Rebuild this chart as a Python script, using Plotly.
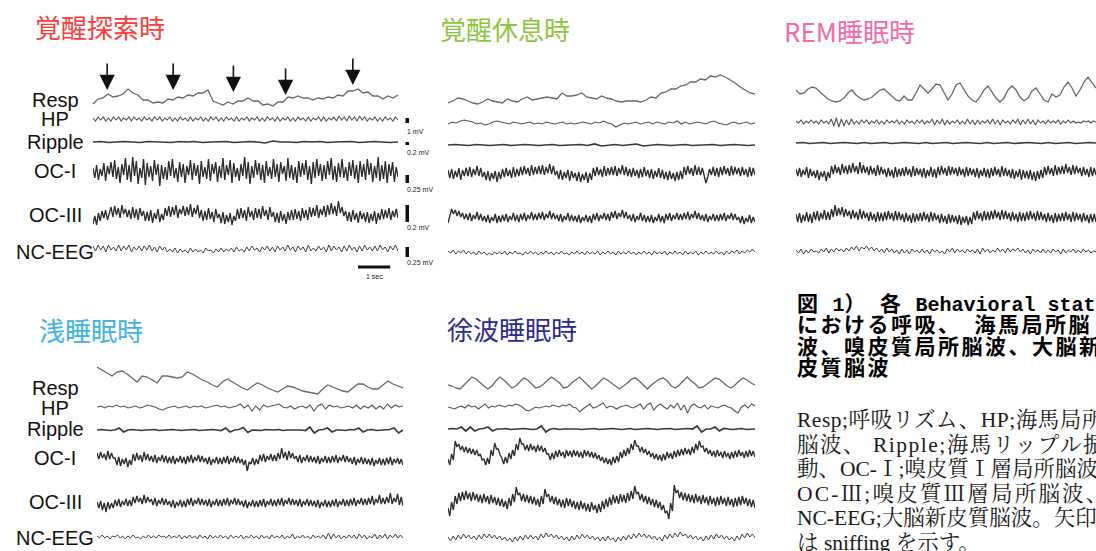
import numpy as np
import plotly.graph_objects as go

W, H = 1096, 551
PX_PER_SEC = 32.2

CHANNELS = ["Resp", "HP", "Ripple", "OC-I", "OC-III", "NC-EEG"]
STATE_NAMES = ["覚醒探索時", "覚醒休息時", "REM睡眠時", "浅睡眠時", "徐波睡眠時"]

# ---------------- panel 1: 覚醒探索時 ----------------
p1_resp = [-6,-1,0,4,1,2,4,9,5,3,-2,-2,-5,-4,-5,-1,-2,1,0,3,2,5,5,8,-3,-5,-7,-4,-6,-3,-3,0,-3,-3,-7,-6,-8,-4,-4,1,0,2,0,0,-2,0,-1,1,0,3,2,7,7,9,5,6,2,2,-1,2,0,3]
p1_hp = [1,-2,2,-1,2,-2,1,-2,2,-1, 2,-2,1,-1,2,-2,2,-1,1,-2, 2,-1,1,-2,2,-1,2,-2,1,-1, 2,-2,1,-2,2,-1,1,-2,2,-2,
         1,-1,2,-2,1,-2,2,-1,2,-2, 1,-2,2,-1,1,-2,2,-2,1,-1, 2,-2,1,-1,2,-2,1,-2,2,-1, 1,-2,2,-2,1,-1,2,-2,1,-2,
         2,-1,1,-2,2,-2,1,-1,2,-2, 2,-2,1,-1,2,-2,3,-1,2,-2, 3,-1,2,-2,3,-1,2,-2,1,-1, 2,-2,1,-2,2,-1,1,-2,2,-1]
p1_ripple = [0,0.5,-0.5,0,0.5,0,-0.5,0.5,0,0,-0.5,0.5,0,0.5,-0.5,0,0,0.5,-0.5,0,0.5,0,-1,1,0,0,-0.5,0.5,0,0.5,-0.5,0,0,0.5,-0.5,0,0.5,0,-0.5,0]
p1_oc1 = [3,-7,6,-9,2,-5,8,-10,5,-3, 9,-6,11,-8,4,-12,7,-4,13,-9, 6,-11,14,-5,10,-13,3,-7,12,-14, 8,-6,5,-10,11,-4,7,-15,6,-8,
          4,-9,10,-5,12,-7,3,-11,9,-6, 7,-12,5,-4,11,-9,8,-5,6,-13, 10,-6,4,-8,12,-10,7,-3,9,-11, 5,-7,13,-9,6,-4,11,-12,8,-6,
          3,-10,7,-5,14,-8,9,-13,5,-7, 11,-4,8,-9,6,-12,10,-5,4,-8, 12,-6,7,-11,9,-3,5,-10,13,-7, 6,-9,4,-12,10,-6,8,-4,11,-9,
          5,-13,9,-7,12,-5,7,-10,6,-8, 10,-4,13,-9,5,-11,8,-6,12,-7, 4,-10,9,-5,11,-8,6,-12,10,-6, 7,-9,12,-4,8,-11,5,-7,14,-10,
          6,-8,10,-12,7,-5,9,-11,4,-6]
p1_oc3 = [-9,-1,-10,2,-6,4,-3,5,-5,3, 8,-2,9,0,7,-3,10,1,6,-2, 5,-4,8,-3,6,-5,7,-1,4,-6, 3,-6,5,-8,2,-4,6,-7,1,-5,
          7,-1,9,-2,8,0,10,-3,6,1, 9,-1,8,0,11,-2,7,1,10,-3, 5,-6,4,-5,7,-4,3,-7,6,-3, 1,-8,3,-9,0,-7,2,-10,-1,-6,
          6,-4,7,-3,5,-6,8,-2,4,-5, 7,-3,6,-4,9,-1,5,-5,8,-2, 3,-7,2,-8,4,-6,1,-9,3,-5, 5,-5,6,-4,4,-6,7,-3,5,-5,
          8,-2,7,-1,10,-3,6,0,9,-2, 10,0,12,1,9,-1,14,2,8,-1, 4,-6,3,-7,5,-5,2,-8,4,-4, 2,-7,3,-8,1,-6,4,-9,2,-5,
          6,-4,5,-3,7,-5,4,-2,6,-3]
p1_nc = [3,-2,4,-1,3,-3,4,-1,2,-2, 4,-2,3,-1,4,-3,2,-1,3,-2, 3,-1,4,-2,2,-3,3,-1,2,-3, 0,-3,1,-4,0,-3,-1,-4,1,-3,
         0,-3,-1,-4,1,-2,-1,-4,0,-3, 1,-3,0,-2,1,-3,2,-2,0,-3, 2,-2,3,-1,1,-3,2,-1,3,-2, 2,-3,3,-1,2,-2,4,-1,2,-3,
         3,-1,2,-3,4,-2,1,-2,3,-1, 2,-3,4,-2,3,-1,2,-3,3,-2, 4,-1,2,-3,3,-2,4,-1,2,-2, 3,-2,4,-1,2,-3,3,-1,4,-2]

# ---------------- panel 2: 覚醒休息時 ----------------
p2_resp = [-10,-8,-5,-6,-8,-10,-11,-9,-6,-8,-9,-10,-6,-8,-9,-6,-4,-7,-6,-5,-4,-5,-6,0,-3,-3,-2,0,-4,-5,-6,-3,-5,-6,-8,-9,-8,-8,-8,-9,-7,-4,-5,0,1,4,4,7,8,11,11,14,13,17,16,18,16,13,10,6,3,0,-1]
p2_hp = [-1,1,0,2,3,2,1,-1,0,-2,-1,1,2,1,0,-1,1,0,-1,0,1,-1,0,-1,1,0,-1,0,1,-1,0,-1,0,1,0,-1,1,0,2,0,-1,-4,-2,0,-1,0,1,-1,0,1,-1,1,0,-1,1,0,2,-1,1,-1,0,1,0,-1,1,2,0,-1,-2,0,1,-1,0,1,-1,0]
p2_ripple = [0,0.5,0,-0.5,0.5,0,-0.5,0,0.5,-0.5,0,0.5,0,-0.5,0,0.5,-0.5,0,0,0.5,-0.5,1,-1,0,0.5,-0.5,0,1,-1,0,0.5,0,-0.5,0,0.5,-0.5,0,0,0.5,-0.5,0,0.5,0,-0.5,0]
p2_oc1 = [3,-5,4,-6,2,-4,5,-7,3,-3, 5,-3,6,-4,4,-2,7,-3,5,-4, 1,-7,2,-8,0,-6,2,-9,1,-6, 4,-4,5,-3,3,-5,6,-4,4,-3,
          6,-2,7,-1,5,-3,8,-2,6,-1, 7,-1,8,-2,6,0,9,-1,7,-2, 2,-6,3,-7,1,-5,3,-8,2,-5, 0,-8,1,-9,-1,-7,1,-10,0,-7,
          5,-3,6,-2,4,-4,7,-3,5,-2, 6,-2,7,-3,5,-1,8,-2,6,-3, 4,-4,5,-3,3,-5,4,-4,6,-3, 3,-5,4,-6,2,-4,5,-5,3,-6,
          1,-7,2,-6,0,-8,1,-7,2,-6, 6,-2,7,-1,5,-3,8,-2,6,-2, 5,-3,-10,-4,4,-2,6,-3,5,-4, 6,-2,7,-1,5,-3,7,-2,6,-1,
          5,-3,6,-2,4,-4,6,-3,5,-2]
p2_oc3 = [-5,3,9,4,8,2,7,1,5,-1, 4,-2,5,-3,3,-1,6,-2,4,-3, 2,-4,3,-5,1,-3,4,-5,2,-4, 3,-3,4,-4,2,-2,5,-3,3,-4,
          4,-2,5,-3,3,-1,6,-2,4,-2, 5,-1,6,-2,4,0,7,-1,5,-1, 3,-3,4,-4,2,-2,5,-3,3,-3, 2,-4,3,-5,1,-3,3,-4,2,-5,
          4,-2,5,-3,3,-1,5,-2,4,-3, 6,0,7,-1,5,1,8,0,6,-1, 3,-3,4,-4,2,-2,5,-3,3,-4, 2,-4,3,-5,1,-3,4,-4,2,-5,
          4,-2,5,-3,3,-1,5,-2,4,-2, 5,-1,6,-2,4,0,7,-1,5,-2, 3,-3,4,-4,2,-2,4,-3,3,-3, 4,-2,5,-3,3,-1,5,-2,4,-2,
          1,-5,2,-6,0,-4,3,-5,1,-4]
p2_nc = [2,0,3,-1,2,0,3,-1,2,-1, 1,-2,2,-1,1,-2,0,-2,1,-1, 1,-1,2,-2,1,-1,2,-1,0,-2, 1,-1,2,-1,1,-2,1,-1,2,-1,
         1,-2,1,-1,2,-1,0,-2,1,-1, 2,-1,1,-2,2,-1,1,-1,2,-2, 1,-1,2,-1,1,-2,2,-1,1,-1, 2,-1,1,-2,1,-1,2,-1,1,-2,
         2,-1,1,-1,2,-2,1,-1,2,-1, 1,-2,2,-1,1,-1,2,-2,1,-1, 2,-1,1,-1,2,-1,1,-2,2,-1, 2,0,3,-1,2,0,3,1,4,1]

# ---------------- panel 3: REM睡眠時 ----------------
p3_resp = [2,-2,-1,3,5,4,0,-4,-7,-9,-10,-9,-6,-1,2,-3,-6,-8,-7,-5,-1,2,3,-1,-5,-8,-9,-4,-8,-8,-1,7,3,-1,3,8,7,-1,-8,-2,7,9,2,-4,-8,-10,-5,2,6,0,-6,-10,-6,2,6,2,-5,-9,-6,1,4,-2,-8,-10,-2,-5,-3,5,10,4,-4,2,10,15,10,4]
p3_hp = [1,-1,2,-2,1,-1,2,-1,1,-2, 2,-1,1,-2,3,-4,4,-5,3,-4, 2,-3,3,-2,1,-2,2,-1,2,-2, 1,-1,2,-2,1,-2,2,-1,1,-1,
         2,-2,1,-2,2,-1,1,-2,2,-1, 2,-2,1,-1,3,-3,2,-2,3,-3, 2,-2,1,-1,2,-2,1,-2,3,-2, 2,-3,2,-2,1,-1,2,-2,3,-2,
         2,-3,2,-1,1,-2,2,-1,3,-3, 2,-2,3,-2,2,-3,2,-1,1,-2, 2,-1,1,-1,2,-2,1,-1,2,-1, 1,-1,0,-1,1,0,1,-1,1,0]
p3_ripple = [0,0.5,-0.5,0,0.5,-0.5,0,0.5,0,-0.5,0.5,-0.5,0,0.5,-0.5,0,0.5,0,-0.5,0.5,-0.5,0,0.5,-0.5,0,0.5,0,-0.5,0.5,-0.5,0,0.5,-0.5,0,0.5,0,-0.5,0.5,-0.5,0,0.5,-0.5,0,0.5,0]
p3_oc1 = [3,-4,4,-5,2,-3,5,-6,3,-4, 1,-6,2,-8,0,-5,1,-9,0,-6, 6,-2,7,-1,5,-3,8,-1,6,-2, 7,-1,9,0,6,-2,10,-1,7,-1,
          5,-3,6,-2,4,-4,7,-3,5,-2, 3,-5,4,-4,2,-6,5,-5,3,-4, 4,-4,5,-3,3,-5,6,-4,4,-3, 3,-5,4,-6,2,-4,5,-5,3,-6,
          5,-3,6,-2,4,-4,6,-3,5,-2, 4,-4,5,-3,3,-5,5,-4,4,-3, 3,-5,4,-6,2,-4,4,-5,3,-6, 4,-4,5,-3,3,-5,6,-4,4,-4,
          2,-6,3,-7,1,-5,3,-8,2,-6, 1,-7,2,-8,0,-9,1,-7,2,-6, 5,-3,6,-2,4,-4,7,-3,5,-2, 6,-2,8,-1,5,-3,7,-2,6,-1,
          4,-4,5,-3,3,-5,5,-4,4,-3]
p3_oc3 = [3,-5,4,-6,2,-4,5,-5,3,-6, 5,-3,6,-4,4,-2,7,-3,5,-3, 8,0,12,1,9,2,10,0,8,1, 6,-2,7,-1,5,-3,8,-2,6,-1,
          4,-4,5,-3,3,-5,5,-4,4,-4, 5,-3,6,-2,4,-4,6,-3,5,-3, 3,-5,4,-4,2,-6,4,-5,3,-4, 4,-4,5,-3,3,-5,5,-4,4,-3,
          2,-6,3,-5,1,-7,3,-6,2,-5, 1,-7,2,-8,0,-6,1,-8,0,-7, 5,-3,6,-2,4,-4,6,-3,5,-3, 6,-2,7,-1,5,-3,7,-2,6,-2,
          4,-4,5,-3,3,-5,5,-4,4,-4, 5,-3,6,-2,4,-4,6,-3,5,-3, 3,-5,4,-4,2,-6,4,-5,3,-4, 4,-4,5,-3,3,-5,5,-4,4,-3,
          3,-5,4,-4,2,-6,3,-5,3,-5]
p3_nc = [1,-2,2,-3,1,-2,2,-1,0,-2, 2,-1,3,-2,2,-1,3,0,2,-1, 3,0,4,1,5,0,4,2,5,1, 4,0,3,-1,2,-2,3,-1,2,-2,
         1,-3,2,-2,1,-3,2,-1,1,-2, 2,-2,1,-3,2,-1,1,-2,0,-3, 2,-1,3,-2,2,-1,1,-2,2,-1, 1,-2,2,-3,3,-1,2,-2,1,-1,
         3,-1,2,-2,3,-1,2,0,3,-1, 2,-2,1,-3,2,-1,1,-2,2,-2, 1,-2,2,-1,1,-3,2,-2,1,-1, 2,-2,1,-2,2,-1,1,-2,0,-1]

# ---------------- panel 4: 浅睡眠時 ----------------
p4_resp = [11,8,5,2,6,7,4,0,-4,2,1,-2,-5,2,2,1,0,1,6,4,1,-2,-4,-7,-9,-4,-1,-4,-7,-10,-12,-8,-5,-7,-10,-12,-14,-11,-8,-9,-11,-13,-14,-15,-16,-11,-7,-9,-11,-13,-14,-10,-6,-6,-9,-11,-11,-7,-3,-6,-8,-10]
p4_hp = [0,1,-1,1,0,2,0,1,-1,0,1,-1,0,2,1,0,-2,-3,-1,0,1,-1,0,1,-1,1,0,1,-1,0,1,2,0,1,-1,0,1,3,-1,2,-4,1,-3,2,0,1,2,3,0,-1,1,-2,0,1,-1,2,-4,1,3,-2,2,0,1,-1,0,1,-1,2,-2,1,-1,2,-2,1,-2,3,-1,2,0,1]
p4_ripple = [0,0.5,0,-0.5,0,2,-2,0,0.5,0,-0.5,0,0,0.5,-0.5,0,0,0.5,0,-0.5,0,0,0.5,-0.5,0,0,0.5,0,-0.5,2,-2,0,0.5,2.5,-2.5,0,0,-0.5,0.5,0,0,0.5,-0.5,0,0,0.5,0,-0.5,3,-3,0,0.5,2,-2,0,0,-0.5,0.5,0,2,-2,0,0.5,-0.5,0,0,0.5,2,-3,0]
p4_oc1 = [7,1,8,2,6,0,9,1,7,2, 2,-5,3,-6,1,-4,2,-7,0,-5, 6,-1,7,0,5,-2,8,0,6,-1, 4,-2,5,-3,3,-1,5,-2,4,-3,
          3,-3,4,-4,2,-2,4,-3,3,-4, 4,-2,5,-3,3,-1,5,-2,4,-2, 2,-4,3,-5,1,-3,3,-4,2,-4, 3,-3,4,-4,2,-2,4,-3,3,-3,
          1,-5,0,-11,-2,-4,2,-5,1,-4, 5,-1,6,-2,4,0,6,-1,5,-1, 7,1,12,2,8,0,9,2,7,1, 4,-2,5,-3,3,-1,5,-2,4,-2,
          3,-3,4,-4,2,-2,4,-3,3,-3, 4,-2,5,-3,3,-1,5,-2,4,-2, 2,-4,3,-5,1,-3,3,-4,2,-4, 1,-5,2,-6,0,-4,2,-5,1,-5,
          2,-4,3,-5,1,-3,2,-4,1,-5]
p4_oc3 = [1,-5,2,-7,0,-9,1,-6,0,-5, 3,-3,4,-4,2,-2,4,-3,3,-3, 6,0,7,1,5,-1,8,0,6,1, 4,-2,5,-3,3,-1,5,-2,4,-2,
          2,-4,3,-5,1,-3,3,-4,2,-4, 4,-2,5,-3,3,-1,5,-2,4,-2, 3,-3,4,-4,2,-2,4,-3,3,-3, 4,-2,5,-3,3,-1,5,-2,4,-2,
          2,-4,3,-5,1,-3,3,-4,2,-4, 3,-3,4,-4,2,-2,4,-3,3,-3, 4,-2,5,-3,3,-1,5,-2,4,-2, 3,-3,4,-4,2,-2,4,-3,3,-3,
          2,-4,3,-5,1,-3,3,-4,2,-4, 3,-3,4,-4,2,-2,4,-3,3,-3, 4,-2,5,-3,3,-1,5,-2,4,-2, 5,-1,7,-2,4,0,8,-1,5,-1,
          6,0,10,-1,5,1,9,-2,6,-3]
p4_nc = [1,-1,2,-1,1,-2,1,0,2,-1, 1,-2,1,-1,2,-1,0,-2,1,-1, 2,-1,1,-1,2,0,1,-1,2,-1, 1,-1,2,-2,1,-1,2,-1,1,-2,
         2,-1,1,-2,2,-1,1,-1,2,-1, 1,-2,2,-1,1,-1,2,-2,1,-1, 2,-1,1,-2,2,-1,1,-2,2,-1, 1,-1,2,-2,1,-1,3,-2,1,-1,
         2,-1,1,-2,2,-1,1,-1,2,-2, 4,-2,3,-1,2,-2,1,-1,2,-1, 2,-2,3,-1,2,-2,1,-1,3,-2, 2,-1,3,-2,2,-1,3,-1,2,-1]

# ---------------- panel 5: 徐波睡眠時 ----------------
p5_resp = [-2,-3,-5,-6,-2,2,6,4,0,-3,-6,-3,2,6,3,-1,-5,-3,1,5,3,-1,-5,-4,-1,3,6,3,0,-5,-4,0,3,6,2,-2,-6,-3,1,5,3,0,-3,-6,-3,0,4,5,2,-2,-6,-2,1,4,5,2,-3,-5,-2,2,6,2,-1,-5,-4,-1,2,5,4,0,-3,-5,-2,2,5,3,0,-2]
p5_hp = [0,-1,-2,0,1,-1,2,0,1,-2,1,3,-1,1,0,2,1,0,2,1,3,2,0,-3,-4,-2,0,-1,0,1,0,2,1,0,2,1,3,0,-1,-5,-2,1,3,-1,0,2,4,-1,1,0,-2,0,1,2,0,-1,1,3,-2,2,4,-3,1,3,0,-2,2,-1,4,-3,2,-6,1,3,0,-1,2,-2,1,0,-1,1,2,0,-1,-4,-6,0,2,-1,3,1]
p5_ripple = [0,0.5,0,2,-2,2,-2,0,0.5,2,-2,0,0,0.5,-0.5,0,0,0.5,0,-0.5,0,3,-3,0,0.5,-0.5,0,0,0.5,0,-0.5,0,0,0.5,-0.5,0,0,0.5,0,-0.5,0,0.5,-0.5,0,0,0.5,0,-0.5,0,0,0.5,-0.5,0,0,0.5,0,3,-3,0,0,2,-2,0.5,0,-0.5,0,0.5,-0.5,0,0]
p5_oc1 = [-4,-10,1,-5,14,8,11,5,9,3,8,2,7,1,6,0,5,-1,1,-5,-4,-10,-3,-9,5,-1,12,6,6,0,-3,-9,-2,-8,2,-4,5,-1,11,5,
          17,11,11,5,10,4,11,5,9,3,10,4,9,3,7,1,1,-5,2,-4,4,-2,5,-1,3,-3,5,-1,4,-2,5,-1,4,-2,3,-3,5,-1,4,-2,
          3,-3,2,-4,0,-6,-2,-8,-3,-9,-4,-10,-2,-8,-1,-7,3,-3,5,-1,7,1,11,5,15,9,9,3,8,2,6,0,4,-2,2,-4,1,-5,
          0,-6,1,-5,3,-3,2,-4,4,-2,5,-1,6,0,7,1,6,0,8,2,11,5,14,8,9,3,7,1,5,-1,4,-2,5,-1,3,-3,4,-2,2,-4,
          3,-3,4,-2,5,-1,3,-3,4,-2,5,-1,4,-2]
p5_oc3 = [-5,-13,1,-7,7,-1,10,2,11,3,12,4,10,2,11,3,9,1,8,0,9,1,7,-1,8,0,6,-2,5,-3,4,-4,2,-6,5,-3,9,1,16,8,
          10,2,9,1,8,0,7,-1,6,-2,4,-4,7,-1,14,6,9,1,7,-1,6,-2,4,-4,3,-5,5,-3,4,-4,2,-6,1,-7,2,-6,0,-8,-1,-9,
          1,-7,-2,-10,-1,-9,2,-6,4,-4,6,-2,8,0,7,-1,9,1,8,0,10,2,12,4,17,9,11,3,9,1,7,-1,6,-2,4,-4,3,-5,1,-7,
          -2,-10,-8,-16,0,-8,18,10,13,5,11,3,10,2,9,1,8,0,9,1,7,-1,8,0,6,-2,7,-1,5,-3,6,-2,7,-1,5,-3,6,-2,
          4,-4,5,-3,6,-2,7,-1,5,-3,4,-4,3,-5]
p5_nc = [1,-3,2,-2,3,-1,4,0,3,-1,2,-2,3,-1,4,0,4,0,3,-1,2,-2,1,-3,0,-4,1,-3,2,-2,3,-1,3,-1,2,-2,4,0,5,1,
         4,0,3,-1,2,-2,1,-3,2,-2,3,-1,4,0,3,-1,2,-2,1,-3,1,-3,2,-2,0,-4,1,-3,2,-2,3,-1,4,0,5,1,4,0,3,-1,
         2,-2,1,-3,3,-1,4,0,5,1,6,2,4,0,3,-1,2,-2,1,-3,2,-2,3,-1,4,0,3,-1,2,-2,1,-3,2,-2,4,0,5,1,4,0]

# sniffing markers (time in s, Resp amplitude at the arrow tip)
p1_sniff_t = [0.44, 2.49, 4.36, 5.98, 8.07]
p1_sniff_amp = [8, 8, 6, 3, 13]
p2_sniff_t = [7.27]
p2_sniff_amp = [25]

scale_labels = ["1 mV", "0.2 mV", "0.25 mV", "0.2 mV", "0.25 mV"]
time_label = "1 sec"
time_bar_start = 8.23  # s

# caption text (segments: (text, kind))
caption_head = [
    [("図", "cjk"), (" 1", "mono"), ("）", "cjk"), (" ", "mono"), ("各", "cjk"), (" Behavioral state", "mono")],
    [("における呼吸、　海馬局所脳", "cjk")],
    [("波、嗅皮質局所脳波、大脳新", "cjk")],
    [("皮質脳波", "cjk")],
]
caption_body = [
    "Resp;呼吸リズム、HP;海馬局所",
    "脳波、 Ripple;海馬リップル振",
    "動、OC-Ⅰ;嗅皮質Ⅰ層局所脳波、",
    "OC-Ⅲ;嗅皮質Ⅲ層局所脳波、",
    "NC-EEG;大脳新皮質脳波。矢印",
    "は sniffing を示す。",
]

DATA = [
    [p1_resp, p1_hp, p1_ripple, p1_oc1, p1_oc3, p1_nc],
    [p2_resp, p2_hp, p2_ripple, p2_oc1, p2_oc3, p2_nc],
    [p3_resp, p3_hp, p3_ripple, p3_oc1, p3_oc3, p3_nc],
    [p4_resp, p4_hp, p4_ripple, p4_oc1, p4_oc3, p4_nc],
    [p5_resp, p5_hp, p5_ripple, p5_oc1, p5_oc3, p5_nc],
]

# ---------------- layout geometry (pixels) ----------------
PANELS = [
    dict(x0=93, x1=398, centers=[98, 119, 142, 171, 215, 249], tx=33, ty=26, color="#ff3b3b", labels_y=[100, 119, 142, 171, 215, 252]),
    dict(x0=448, x1=755, centers=[93, 123, 145, 173, 218, 253], tx=438, ty=28, color="#8cc63f", labels_y=None),
    dict(x0=796, x1=1096, centers=[92, 122, 143, 172, 217, 251], tx=782, ty=31, color="#f46aa9", labels_y=None),
    dict(x0=97, x1=403, centers=[378, 407, 430, 460, 503, 537], tx=37, ty=329, color="#3db4dc", labels_y=[388, 408, 429, 458, 502, 538]),
    dict(x0=448, x1=755, centers=[383, 407, 429, 455, 503, 538], tx=445, ty=328, color="#2c2b8e", labels_y=None),
]
HALF = [22, 8, 6, 20, 20, 10]
STYLE = [
    dict(color="#686868", width=1.3),
    dict(color="#555555", width=1.1),
    dict(color="#3a3a3a", width=1.7),
    dict(color="#2c2c2c", width=1.35),
    dict(color="#2c2c2c", width=1.35),
    dict(color="#404040", width=1.0),
]
BODY_SPACING = [0.5, 1.5, 0, 2.2, 0, 0]  # letter-spacing per body line (justification)


def px(x):
    return x / W


def py(y):
    return 1 - y / H


def axname(prefix, i):
    return prefix if i == 1 else f"{prefix}{i}"


fig = go.Figure()
layout = dict(width=W, height=H, margin=dict(l=0, r=0, t=0, b=0),
              paper_bgcolor="white", plot_bgcolor="rgba(0,0,0,0)", showlegend=False)
annotations = []
shapes = []

for i, p in enumerate(PANELS):
    xi = i + 1
    dur = (p["x1"] - p["x0"]) / PX_PER_SEC
    layout[axname("xaxis", xi)] = dict(domain=[px(p["x0"]), px(p["x1"])], range=[0, dur],
                                       visible=False, fixedrange=True, anchor=axname("y", i * 6 + 1))
    for j, vals in enumerate(DATA[i]):
        yi = i * 6 + j + 1
        c = p["centers"][j]
        hh = HALF[j]
        layout[axname("yaxis", yi)] = dict(domain=[py(c + hh), py(c - hh)], range=[-hh, hh],
                                           visible=False, fixedrange=True, anchor=axname("x", xi))
        fig.add_trace(go.Scatter(x=np.linspace(0, dur, len(vals)), y=vals, mode="lines",
                                 line=dict(color=STYLE[j]["color"], width=STYLE[j]["width"]),
                                 xaxis=axname("x", xi), yaxis=axname("y", yi), hoverinfo="skip"))
    annotations.append(dict(x=px(p["tx"]), y=py(p["ty"]), xref="paper", yref="paper", xanchor="left",
                            yanchor="middle", showarrow=False, text=STATE_NAMES[i],
                            font=dict(family="Noto Sans CJK JP", size=26, color=p["color"])))
    if p["labels_y"]:
        for name, ly in zip(CHANNELS, p["labels_y"]):
            annotations.append(dict(x=px(55), y=py(ly), xref="paper", yref="paper", xanchor="center",
                                    yanchor="middle", showarrow=False, text=name,
                                    font=dict(family="Liberation Sans, Arial", size=20, color="#111111")))

# sniffing arrows
for t, a in zip(p1_sniff_t, p1_sniff_amp):
    annotations.append(dict(x=t, y=a, xref="x", yref="y", ax=0, ay=-28, showarrow=True, text="",
                            arrowhead=2, arrowsize=1.9, arrowwidth=1.6, arrowcolor="#111111"))
for t, a in zip(p2_sniff_t, p2_sniff_amp):
    annotations.append(dict(x=t, y=a, xref="x2", yref="y7", ax=0, ay=-26, showarrow=True, text="",
                            arrowhead=2, arrowsize=1.9, arrowwidth=1.6, arrowcolor="#111111"))

# amplitude scale bars (panel 1)
BARS = [(118, 123, 131), (142, 145, 152), (175, 183, 189), (205, 222, 227), (247, 257, 263)]
for (top, bot, ly), lab in zip(BARS, scale_labels):
    shapes.append(dict(type="rect", xref="paper", yref="paper", x0=px(405.5), x1=px(409), y0=py(bot), y1=py(top),
                       fillcolor="#111111", line=dict(width=0)))
    annotations.append(dict(x=px(405), y=py(ly), xref="paper", yref="paper", xanchor="left", yanchor="middle",
                            showarrow=False, text=lab, font=dict(family="Liberation Sans, Arial", size=7, color="#222")))

# time scale bar (panel 1)
shapes.append(dict(type="line", xref="x", yref="paper", x0=time_bar_start, x1=time_bar_start + 1.0,
                   y0=py(267), y1=py(267), line=dict(color="#111111", width=3)))
annotations.append(dict(x=time_bar_start + 0.5, y=py(276), xref="x", yref="paper", xanchor="center", yanchor="middle",
                        showarrow=False, text=time_label, font=dict(family="Liberation Sans, Arial", size=7, color="#222")))

# caption heading: one text block, tight line spacing (base size 16.5 -> 21.5px lines)
CJK_STYLE = "font-size:21px;letter-spacing:2.5px"
MONO_STYLE = "font-family:'Liberation Mono';font-size:20px"
head_lines = []
for segs in caption_head:
    parts = []
    for txt, kind in segs:
        st = CJK_STYLE if kind == "cjk" else MONO_STYLE
        parts.append(f'<span style="{st}">{txt}</span>')
    head_lines.append("".join(parts))
annotations.append(dict(x=px(795), y=py(285), xref="paper", yref="paper", xanchor="left", yanchor="top",
                        align="left", showarrow=False, text="<b>" + "<br>".join(head_lines) + "</b>",
                        font=dict(family="Noto Sans CJK JP", size=16.5, color="#000000")))

# caption body: one text block (base size 18.9 -> 24.6px lines)
body_lines = [f'<span style="font-size:21.5px;letter-spacing:{ls}px">{t}</span>'
              for t, ls in zip(caption_body, BODY_SPACING)]
annotations.append(dict(x=px(795), y=py(406), xref="paper", yref="paper", xanchor="left", yanchor="top",
                        align="left", showarrow=False, text="<br>".join(body_lines),
                        font=dict(family="Liberation Serif, Noto Serif CJK JP, Noto Sans CJK JP", size=18.9,
                                  color="#1a1a1a")))

layout["annotations"] = annotations
layout["shapes"] = shapes
fig.update_layout(**layout)
fig.write_html("out.html", config={"displayModeBar": False},
               post_script="document.body.style.margin='0px';")
